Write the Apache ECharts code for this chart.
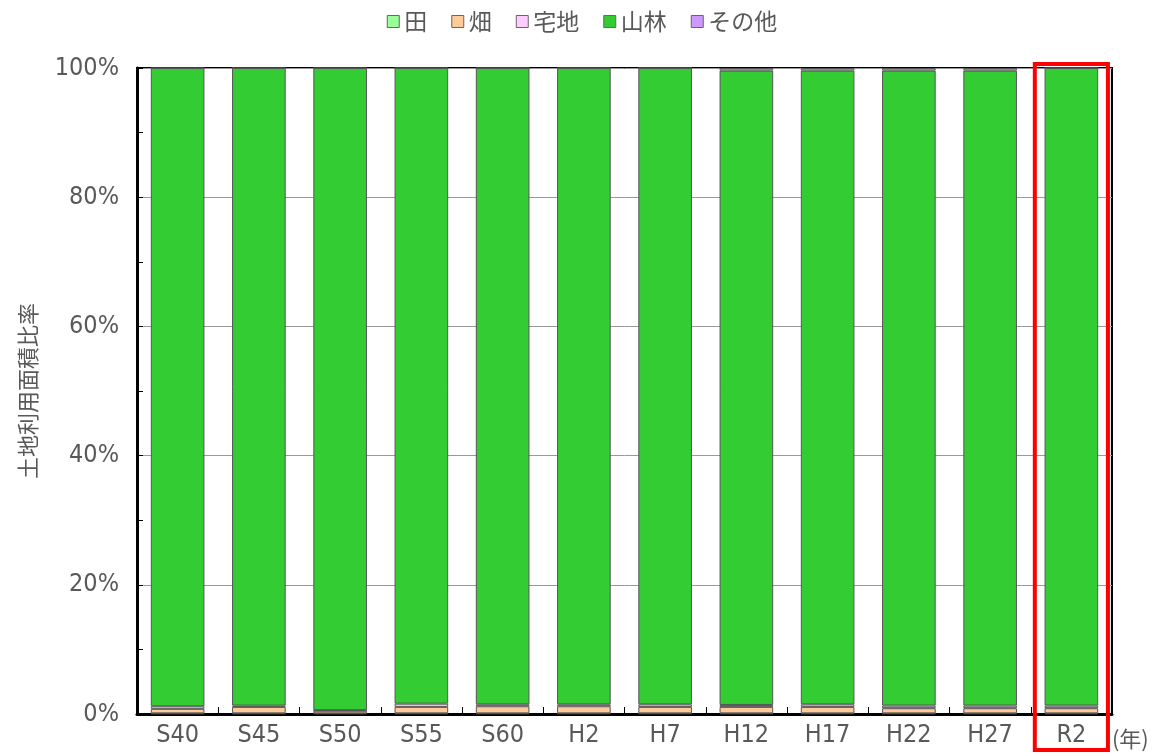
<!DOCTYPE html>
<html>
<head>
<meta charset="utf-8">
<script src="https://cdn.jsdelivr.net/npm/echarts@6/dist/echarts.min.js"></script>
<style>
html,body{margin:0;padding:0;background:#fff;}
#chart{width:1164px;height:754px;}
</style>
</head>
<body>
<div id="chart"></div>
<script>
const categories = ['S40','S45','S50','S55','S60','H2','H7','H12','H17','H22','H27','R2'];
const paddy       = [0.1, 0.1, 0.1, 0.1, 0.1, 0.1, 0.1, 0.1, 0.1, 0.1, 0.1, 0.1];
const field       = [0.7, 1.0, 0.4, 1.0, 1.1, 1.1, 1.0, 1.0, 1.0, 0.8, 0.8, 0.8];
const residential = [0.4, 0.2, 0.1, 0.5, 0.3, 0.3, 0.4, 0.3, 0.4, 0.4, 0.4, 0.4];
const forest      = [98.8, 98.7, 99.4, 98.4, 98.5, 98.5, 98.5, 98.2, 98.1, 98.3, 98.3, 98.7];
const other       = [0, 0, 0, 0, 0, 0, 0, 0.4, 0.4, 0.4, 0.4, 0];
const seriesNames = ['田','畑','宅地','山林','その他'];
const seriesColors = ['#99ff99','#ffcc99','#ffccff','#33cc33','#cc99ff'];
const yTicks = [0, 20, 40, 60, 80, 100];
const highlightCategory = 'R2';
const xUnit = '(年)';

const narrow = "'Liberation Sans Narrow','DejaVu Sans Condensed','Roboto','Noto Sans',sans-serif";
const cjk = "'Noto Sans CJK JP',sans-serif";
const gray = '#595959';

const chart = echarts.init(document.getElementById('chart'));
const dataSets = [paddy, field, residential, forest, other];

const option = {
  animation: false,
  backgroundColor: '#fff',
  legend: {
    top: 5,
    left: 'center',
    icon: 'rect',
    itemWidth: 12,
    itemHeight: 12,
    itemGap: 24,
    textStyle: { fontFamily: cjk, fontSize: 23, color: gray },
    data: seriesNames.map((n, i) => ({ name: n, itemStyle: { color: seriesColors[i], borderColor: '#666', borderWidth: 1 } }))
  },
  grid: {
    left: 137, right: 52, top: 68, bottom: 40,
    show: true, borderColor: '#000', borderWidth: 2
  },
  xAxis: {
    type: 'category',
    data: categories,
    axisLine: { show: true, lineStyle: { color: '#000', width: 3 } },
    axisTick: { show: true, inside: true, length: 7, lineStyle: { color: '#000', width: 1 } },
    axisLabel: { fontFamily: narrow, fontSize: 25, color: gray, margin: 9 }
  },
  yAxis: {
    type: 'value',
    min: 0, max: 100, interval: 20,
    axisLine: { show: true, lineStyle: { color: '#000', width: 3 } },
    axisTick: { show: true, inside: true, length: 6, lineStyle: { color: '#000' } },
    minorTick: { show: true, splitNumber: 2, length: 6, lineStyle: { color: '#000' } },
    axisLabel: { fontFamily: narrow, fontSize: 25, color: gray, margin: 18,
      formatter: v => yTicks.includes(v) ? v + '%' : '' },
    splitLine: { show: true, lineStyle: { color: '#999', width: 1 } },
    name: '土地利用面積比率',
    nameLocation: 'middle',
    nameRotate: 90,
    nameGap: 98,
    nameTextStyle: { fontFamily: cjk, fontSize: 22, color: gray }
  },
  series: seriesNames.map((n, i) => ({
    name: n,
    type: 'bar',
    stack: 'total',
    barCategoryGap: '34%',
    data: dataSets[i],
    itemStyle: { color: seriesColors[i], borderColor: '#555', borderWidth: 1 }
  }))
};
chart.setOption(option);

// Red highlight box and unit label, positioned from the axis scale
const p0 = chart.convertToPixel({ gridIndex: 0 }, [categories[0], 100]);
const p1 = chart.convertToPixel({ gridIndex: 0 }, [categories[1], 100]);
const ph = chart.convertToPixel({ gridIndex: 0 }, [highlightCategory, 100]);
const pb = chart.convertToPixel({ gridIndex: 0 }, [highlightCategory, 0]);
const bandW = p1[0] - p0[0];
const halfW = bandW * 0.45;
const boxTop = ph[1] - 4;
const boxBottom = 754 - 4;
chart.setOption({
  graphic: [{
    type: 'rect',
    z: 100,
    shape: { x: ph[0] - halfW, y: boxTop, width: halfW * 2, height: boxBottom - boxTop },
    style: { fill: 'none', stroke: '#ff0000', lineWidth: 4 }
  }, {
    type: 'text',
    z: 100,
    x: ph[0] + halfW + 4,
    y: pb[1] + 25,
    style: { text: xUnit, font: "22px 'Noto Sans CJK JP', sans-serif", fill: gray, verticalAlign: 'middle', align: 'left' }
  }]
});
</script>
</body>
</html>
